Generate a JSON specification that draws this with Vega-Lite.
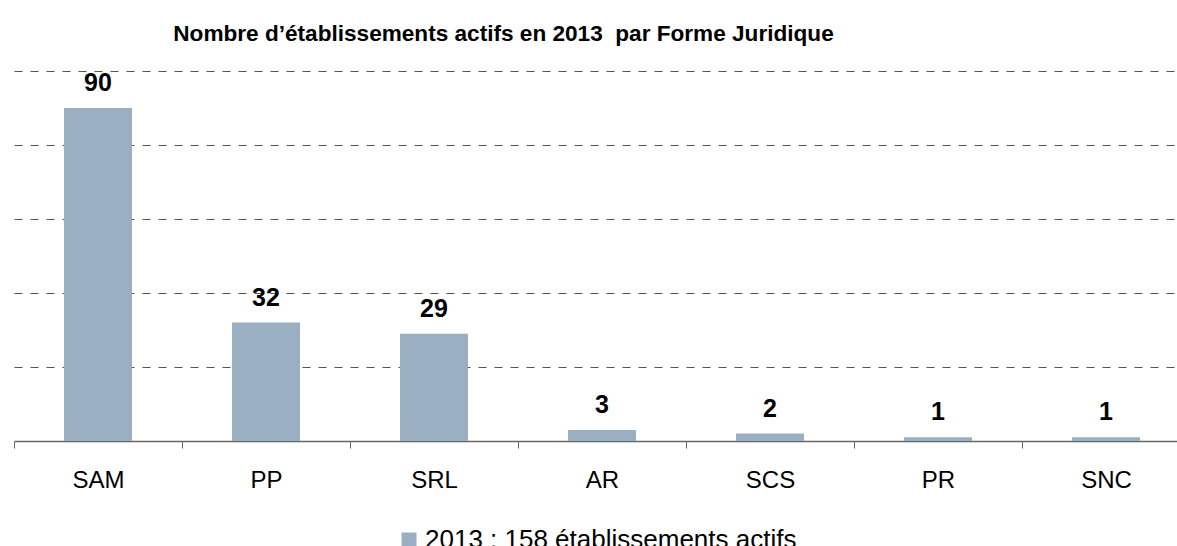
{
  "$schema": "https://vega.github.io/schema/vega-lite/v6.json",
  "autosize": {"type": "none"},
  "width": 1163,
  "height": 370,
  "padding": {"left": 14, "top": 71, "right": 0, "bottom": 105},
  "background": "white",
  "config": {
    "font": "Liberation Sans",
    "view": {"stroke": null}
  },
  "title": {
    "text": "Nombre d’établissements actifs en 2013\u00a0 par Forme Juridique",
    "font": "Liberation Sans",
    "fontSize": 22.6,
    "fontWeight": "bold",
    "color": "#000000",
    "anchor": "middle",
    "baseline": "alphabetic",
    "offset": 28,
    "dx": -92,
    "dy": 21
  },
  "data": {
    "values": [
      {"forme": "SAM", "n": 90, "serie": "2013 : 158 établissements actifs"},
      {"forme": "PP", "n": 32, "serie": "2013 : 158 établissements actifs"},
      {"forme": "SRL", "n": 29, "serie": "2013 : 158 établissements actifs"},
      {"forme": "AR", "n": 3, "serie": "2013 : 158 établissements actifs"},
      {"forme": "SCS", "n": 2, "serie": "2013 : 158 établissements actifs"},
      {"forme": "PR", "n": 1, "serie": "2013 : 158 établissements actifs"},
      {"forme": "SNC", "n": 1, "serie": "2013 : 158 établissements actifs"}
    ]
  },
  "encoding": {
    "x": {
      "field": "forme",
      "type": "nominal",
      "sort": null,
      "title": null,
      "scale": {"range": [0, 1176], "paddingInner": 0, "paddingOuter": 0},
      "axis": {
        "labelAngle": 0,
        "labelFontSize": 24,
        "labelColor": "#000000",
        "labelPadding": 20,
        "tickBand": "extent",
        "tickSize": 7,
        "tickColor": "#666666",
        "domainColor": "#666666",
        "domainWidth": 1.5,
        "grid": false
      }
    },
    "y": {
      "field": "n",
      "type": "quantitative",
      "title": null,
      "scale": {"domain": [0, 100], "nice": false},
      "axis": {
        "values": [20, 40, 60, 80, 100],
        "labels": false,
        "ticks": false,
        "domain": false,
        "grid": true,
        "gridDash": [8, 8],
        "gridColor": "#555555",
        "gridWidth": 1
      }
    }
  },
  "layer": [
    {
      "mark": {"type": "bar", "size": 68},
      "encoding": {
        "color": {
          "field": "serie",
          "type": "nominal",
          "scale": {"range": ["#9aafc1"]},
          "legend": {
            "title": null,
            "orient": "none",
            "legendX": 382,
            "legendY": 456,
            "symbolType": "square",
            "symbolSize": 225,
            "symbolStrokeWidth": 0,
            "labelFontSize": 26,
            "labelColor": "#000000",
            "labelLimit": 600,
            "labelOffset": 3
          }
        }
      }
    },
    {
      "mark": {"type": "text", "fontSize": 25, "fontWeight": "bold", "baseline": "alphabetic", "dy": -17, "color": "#000000"},
      "encoding": {"text": {"field": "n", "type": "quantitative"}}
    }
  ]
}
